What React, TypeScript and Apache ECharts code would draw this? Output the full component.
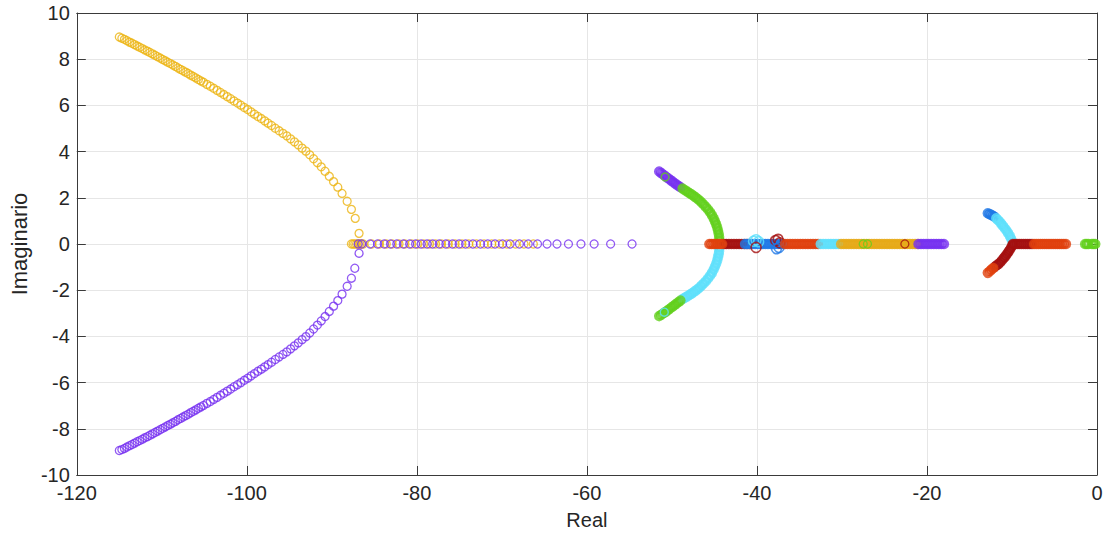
import React, { useEffect, useRef } from "react";
import * as echarts from "echarts";

// Branch colours
const YELLOW = "#ecb412";
const YELLOW_DEEP = "#e6a915";
const PURPLE = "#7530f0";
const GREEN = "#62d01c";
const CYAN = "#5ee0fb";
const DARK_RED = "#a40f0f";
const RED_ORANGE = "#e0400c";
const BLUE = "#1f78e6";

const xTicks = { min: -120, max: 0, step: 20 };
const yTicks = { min: -10, max: 10, step: 2 };

// Far-left complex pair (real, imaginary)
const yellowUpper: number[][] = [
  [-115.0, 8.96], [-114.7, 8.91], [-114.4, 8.86], [-114.1, 8.8], [-113.8, 8.74], [-113.5, 8.69],
  [-113.2, 8.63], [-112.9, 8.57], [-112.6, 8.52], [-112.3, 8.46], [-112.0, 8.4], [-111.7, 8.35],
  [-111.4, 8.29], [-111.1, 8.23], [-110.8, 8.17], [-110.5, 8.11], [-110.2, 8.05], [-109.9, 7.99],
  [-109.6, 7.93], [-109.3, 7.87], [-109.0, 7.81], [-108.7, 7.75], [-108.4, 7.69], [-108.1, 7.62],
  [-107.8, 7.56], [-107.5, 7.5], [-107.2, 7.44], [-106.9, 7.38], [-106.6, 7.31], [-106.3, 7.25],
  [-106.0, 7.19], [-105.7, 7.12], [-105.4, 7.06], [-105.1, 7.0], [-104.7, 6.91], [-104.3, 6.83],
  [-103.9, 6.74], [-103.5, 6.65], [-103.1, 6.56], [-102.7, 6.47], [-102.3, 6.38], [-101.9, 6.29],
  [-101.5, 6.19], [-101.1, 6.1], [-100.7, 6.01], [-100.3, 5.91], [-99.9, 5.82], [-99.5, 5.72],
  [-99.1, 5.62], [-98.7, 5.52], [-98.3, 5.43], [-97.9, 5.33], [-97.5, 5.23], [-97.1, 5.13],
  [-96.65, 5.01], [-96.2, 4.9], [-95.75, 4.79], [-95.3, 4.68], [-94.85, 4.55], [-94.4, 4.42],
  [-93.95, 4.29], [-93.5, 4.15], [-93.05, 4.02], [-92.6, 3.86], [-92.15, 3.69], [-91.7, 3.52],
  [-91.25, 3.34], [-90.8, 3.15], [-90.3, 2.93], [-89.8, 2.7], [-89.3, 2.46], [-88.8, 2.19],
  [-88.2, 1.85], [-87.7, 1.5], [-87.25, 1.11], [-86.8, 0.46],
];
const purpleLower: number[][] = [
  [-115.0, -8.94], [-114.7, -8.9], [-114.4, -8.85], [-114.1, -8.79], [-113.8, -8.73], [-113.5, -8.68],
  [-113.2, -8.62], [-112.9, -8.56], [-112.6, -8.51], [-112.3, -8.45], [-112.0, -8.39], [-111.7, -8.34],
  [-111.4, -8.28], [-111.1, -8.22], [-110.8, -8.16], [-110.5, -8.1], [-110.2, -8.04], [-109.9, -7.98],
  [-109.6, -7.92], [-109.3, -7.86], [-109.0, -7.8], [-108.7, -7.74], [-108.4, -7.68], [-108.1, -7.61],
  [-107.8, -7.55], [-107.5, -7.49], [-107.2, -7.43], [-106.9, -7.37], [-106.6, -7.3], [-106.3, -7.24],
  [-106.0, -7.18], [-105.7, -7.11], [-105.4, -7.05], [-105.1, -6.99], [-104.7, -6.9], [-104.3, -6.82],
  [-103.9, -6.73], [-103.5, -6.64], [-103.1, -6.55], [-102.7, -6.46], [-102.3, -6.37], [-101.9, -6.28],
  [-101.5, -6.18], [-101.1, -6.09], [-100.7, -6.0], [-100.3, -5.9], [-99.9, -5.81], [-99.5, -5.71],
  [-99.1, -5.61], [-98.7, -5.51], [-98.3, -5.42], [-97.9, -5.32], [-97.5, -5.22], [-97.1, -5.12],
  [-96.65, -5.0], [-96.2, -4.89], [-95.75, -4.78], [-95.3, -4.67], [-94.85, -4.54], [-94.4, -4.41],
  [-93.95, -4.28], [-93.5, -4.14], [-93.05, -4.01], [-92.6, -3.85], [-92.15, -3.68], [-91.7, -3.51],
  [-91.25, -3.33], [-90.8, -3.14], [-90.3, -2.92], [-89.8, -2.69], [-89.3, -2.45], [-88.8, -2.17],
  [-88.2, -1.83], [-87.7, -1.48], [-87.3, -1.05], [-86.8, -0.4],
];

// Real-axis roots (real parts only, imaginary part zero)
const yellowAxisLeft = [
  -87.7, -87.5, -87.3, -87.1, -86.9, -86.7, -86.5, -86.3, -85.3, -84.4, -83.6, -82.9, -82.1,
  -81.4, -80.6, -79.9, -79.2, -78.5, -77.8, -77.1, -76.3, -75.5, -74.7, -73.9, -73.0, -72.1,
  -71.2, -70.3, -69.4, -68.4, -67.4, -66.3,
];
const purpleAxisLeft = [
  -86.9, -86.5, -85.5, -84.62, -83.84, -83.1, -82.36, -81.59, -80.85, -80.15, -79.5, -78.8,
  -78.14, -77.36, -76.59, -75.81, -75.03, -74.27, -73.41, -72.52, -71.66, -70.81, -69.92,
  -69.03, -67.94, -66.9, -65.81, -64.69, -63.52, -62.17, -60.7, -59.15, -57.21, -54.69,
];

// Middle group: complex branches
const midUpperPurple: number[][] = [
  [-51.5, 3.14], [-51.25, 3.07], [-51.0, 3.0], [-50.75, 2.93], [-50.5, 2.86], [-50.25, 2.79],
  [-50.0, 2.72], [-49.75, 2.65], [-49.5, 2.58], [-49.25, 2.52], [-49.0, 2.46],
];
const midUpperGreenMark: number[][] = [[-50.8, 2.9]];
const midUpperGreen: number[][] = [
  [-48.75, 2.4], [-48.5, 2.34], [-48.25, 2.28], [-48.0, 2.22], [-47.75, 2.16],
  [-47.5, 2.1], [-47.25, 2.03], [-47.0, 1.96], [-46.75, 1.88], [-46.5, 1.79], [-46.25, 1.7],
  [-46.0, 1.6], [-45.75, 1.49], [-45.5, 1.37], [-45.3, 1.25], [-45.1, 1.12], [-44.95, 0.99],
  [-44.8, 0.86], [-44.68, 0.72], [-44.58, 0.58], [-44.5, 0.44], [-44.45, 0.3], [-44.42, 0.16],
];
const midLowerCyan: number[][] = [
  [-44.42, -0.16], [-44.45, -0.3], [-44.5, -0.44], [-44.58, -0.58], [-44.68, -0.72], [-44.8, -0.86],
  [-44.95, -0.99], [-45.1, -1.12], [-45.3, -1.25], [-45.5, -1.37], [-45.75, -1.49], [-46.0, -1.6],
  [-46.25, -1.7], [-46.5, -1.79], [-46.75, -1.88], [-47.0, -1.96], [-47.25, -2.03], [-47.5, -2.1],
  [-47.75, -2.16], [-48.0, -2.22], [-48.25, -2.28], [-48.5, -2.33], [-48.75, -2.38],
];
const midLowerGreen: number[][] = [
  [-49.0, -2.45], [-49.25, -2.52], [-49.5, -2.59], [-49.75, -2.66], [-50.0, -2.73], [-50.25, -2.8],
  [-50.5, -2.87], [-50.75, -2.94], [-51.0, -3.0], [-51.25, -3.06], [-51.5, -3.12],
];
const midLowerCyanMark: number[][] = [[-50.9, -2.95]];

// Middle group: real-axis segments
const midAxisRedOrangeA = [-45.6, -45.35, -45.1, -44.85, -44.6, -44.35, -44.1];
const midAxisDarkRed = [-43.85, -43.6, -43.3, -43.0, -42.7, -42.4, -42.1, -41.8, -41.5, -41.2, -40.9];
const midAxisBlue = [
  -41.4, -41.1, -40.8, -40.5, -40.2, -39.9, -39.6, -39.3, -39.0, -38.7, -38.4, -38.1, -37.8,
  -37.5, -37.2, -36.9,
];
const midCyanNear40: number[][] = [[-40.4, 0.12], [-40.1, 0.18], [-39.8, 0.1]];
const midDarkRedNear40: number[][] = [[-40.1, -0.15], [-37.8, 0.15], [-37.5, 0.2], [-37.3, 0.05]];
const midBlueNear38: number[][] = [[-37.7, -0.2], [-37.4, -0.15]];
const midAxisRedOrangeB = [
  -36.7, -36.4, -36.1, -35.8, -35.5, -35.2, -34.9, -34.6, -34.3, -34.0, -33.7, -33.4, -33.1, -32.8,
];
const midAxisCyan = [-32.5, -32.2, -31.9, -31.6, -31.3, -31.0, -30.7, -30.4];
const midAxisYellow = [
  -30.1, -29.8, -29.5, -29.2, -28.9, -28.6, -28.3, -28.0, -27.7, -27.4, -27.1, -26.8, -26.5,
  -26.2, -25.9, -25.6, -25.3, -25.0, -24.7, -24.4, -24.1, -23.8, -23.5, -23.2, -22.9, -22.6,
  -22.3, -22.0, -21.7, -21.4, -21.1,
];
const midAxisGreen = [-27.5, -27.0];
const midAxisDarkRedMark = [-22.6];
const midAxisPurple = [-21.0, -20.7, -20.4, -20.1, -19.8, -19.5, -19.2, -18.9, -18.6, -18.3, -18.0];

// Right group
const rightUpperBlue: number[][] = [
  [-12.85, 1.33], [-12.65, 1.3], [-12.45, 1.26], [-12.25, 1.22], [-12.05, 1.18],
];
const rightUpperCyan: number[][] = [
  [-11.85, 1.11], [-11.65, 1.04], [-11.45, 0.96], [-11.25, 0.87], [-11.05, 0.78], [-10.85, 0.68],
  [-10.65, 0.58], [-10.45, 0.47], [-10.25, 0.35], [-10.1, 0.23], [-9.95, 0.1],
];
const rightLowerDarkRed: number[][] = [
  [-9.95, -0.05], [-10.1, -0.15], [-10.25, -0.25], [-10.4, -0.33], [-10.55, -0.41], [-10.7, -0.49],
  [-10.85, -0.56], [-11.0, -0.63], [-11.2, -0.72], [-11.4, -0.8], [-11.6, -0.87], [-11.8, -0.92],
  [-12.0, -0.98],
];
const rightLowerRedOrange: number[][] = [[-12.2, -1.04], [-12.4, -1.1], [-12.6, -1.17], [-12.85, -1.25]];
const rightAxisDarkRed = [-9.9, -9.65, -9.4, -9.15, -8.9, -8.65, -8.4, -8.15, -7.9, -7.65];
const rightAxisRedOrange = [
  -7.4, -7.15, -6.9, -6.65, -6.4, -6.15, -5.9, -5.65, -5.4, -5.15, -4.9, -4.65, -4.4, -4.15,
  -3.9, -3.65,
];
const rightAxisGreen = [-1.4, -1.2, -1.0, -0.6, -0.4, -0.2];

const FONT = "'Liberation Sans', Arial, sans-serif";
const TEXT = "#262626";
const AXIS = "#3a3a3a";

const onAxis = (re: number[]) => re.map((r) => [r, 0]);

function rings(data: number[][], color: string, width = 1.3, size = 8) {
  return {
    type: "scatter",
    data,
    symbol: "circle",
    symbolSize: size,
    itemStyle: { color: "rgba(0,0,0,0)", borderColor: color, borderWidth: width },
    emphasis: { disabled: true },
    silent: true,
  };
}

// Densely packed root traces read as solid bands
function band(data: number[][], color: string) {
  return rings(data, color, 3, 7.5);
}

export default function App() {
  const ref = useRef<HTMLDivElement>(null);

  useEffect(() => {
    if (!ref.current) return;
    const chart = echarts.init(ref.current, undefined, { renderer: "svg" });
    const xBase = {
      type: "value",
      min: xTicks.min,
      max: xTicks.max,
      interval: xTicks.step,
      axisLine: { show: true, onZero: false, lineStyle: { color: AXIS, width: 1 } },
      axisTick: { show: true, inside: true, length: 9, lineStyle: { color: AXIS } },
    };
    const yBase = {
      type: "value",
      min: yTicks.min,
      max: yTicks.max,
      interval: yTicks.step,
      axisLine: { show: true, onZero: false, lineStyle: { color: AXIS, width: 1 } },
      axisTick: { show: true, inside: true, length: 9, lineStyle: { color: AXIS } },
    };
    chart.setOption({
      animation: false,
      backgroundColor: "#ffffff",
      grid: { left: 65, top: 13, width: 1032, height: 462, containLabel: false },
      xAxis: [
        {
          ...xBase,
          position: "bottom",
          name: "Real",
          nameLocation: "middle",
          nameGap: 35,
          nameTextStyle: { fontSize: 20, color: TEXT, fontFamily: FONT },
          axisLabel: { fontSize: 20, lineHeight: 14, color: TEXT, fontFamily: FONT, margin: 11 },
          splitLine: { show: true, lineStyle: { color: "#e6e6e6", width: 1 } },
        },
        {
          ...xBase,
          position: "top",
          axisLabel: { show: false },
          splitLine: { show: false },
        },
      ],
      yAxis: [
        {
          ...yBase,
          position: "left",
          name: "Imaginario",
          nameLocation: "middle",
          nameGap: 37,
          nameRotate: 90,
          nameTextStyle: { fontSize: 22, color: TEXT, fontFamily: FONT },
          axisLabel: { fontSize: 20, lineHeight: 14, color: TEXT, fontFamily: FONT, margin: 7 },
          splitLine: { show: true, lineStyle: { color: "#e6e6e6", width: 1 } },
        },
        {
          ...yBase,
          position: "right",
          axisLabel: { show: false },
          splitLine: { show: false },
        },
      ],
      series: [
        rings(yellowUpper, YELLOW),
        rings(purpleLower, PURPLE),
        rings(onAxis(yellowAxisLeft), YELLOW),
        rings(onAxis(purpleAxisLeft), PURPLE),

        band(midUpperPurple, PURPLE),
        rings(midUpperGreenMark, GREEN, 1.4),
        band(midUpperGreen, GREEN),
        band(midLowerCyan, CYAN),
        band(midLowerGreen, GREEN),
        rings(midLowerCyanMark, CYAN, 1.4),
        band(onAxis(midAxisDarkRed), DARK_RED),
        band(onAxis(midAxisRedOrangeA), RED_ORANGE),
        band(onAxis(midAxisBlue), BLUE),
        rings(midCyanNear40, CYAN, 1.6, 10),
        rings(midDarkRedNear40, DARK_RED, 1.6, 10),
        rings(midBlueNear38, BLUE, 1.6, 10),
        band(onAxis(midAxisRedOrangeB), RED_ORANGE),
        band(onAxis(midAxisCyan), CYAN),
        band(onAxis(midAxisYellow), YELLOW_DEEP),
        rings(onAxis(midAxisGreen), GREEN, 1.3),
        band(onAxis(midAxisPurple), PURPLE),
        rings(onAxis(midAxisDarkRedMark), DARK_RED, 1.3),

        band(rightUpperBlue, BLUE),
        band(rightUpperCyan, CYAN),
        band(rightLowerDarkRed, DARK_RED),
        band(rightLowerRedOrange, RED_ORANGE),
        band(onAxis(rightAxisDarkRed), DARK_RED),
        band(onAxis(rightAxisRedOrange), RED_ORANGE),
        band(onAxis(rightAxisGreen), GREEN),
      ],
    });
    return () => chart.dispose();
  }, []);

  return (
    <div
      ref={ref}
      style={{ position: "fixed", left: 0, top: 0, width: 1107, height: 535, background: "#fff" }}
    />
  );
}
